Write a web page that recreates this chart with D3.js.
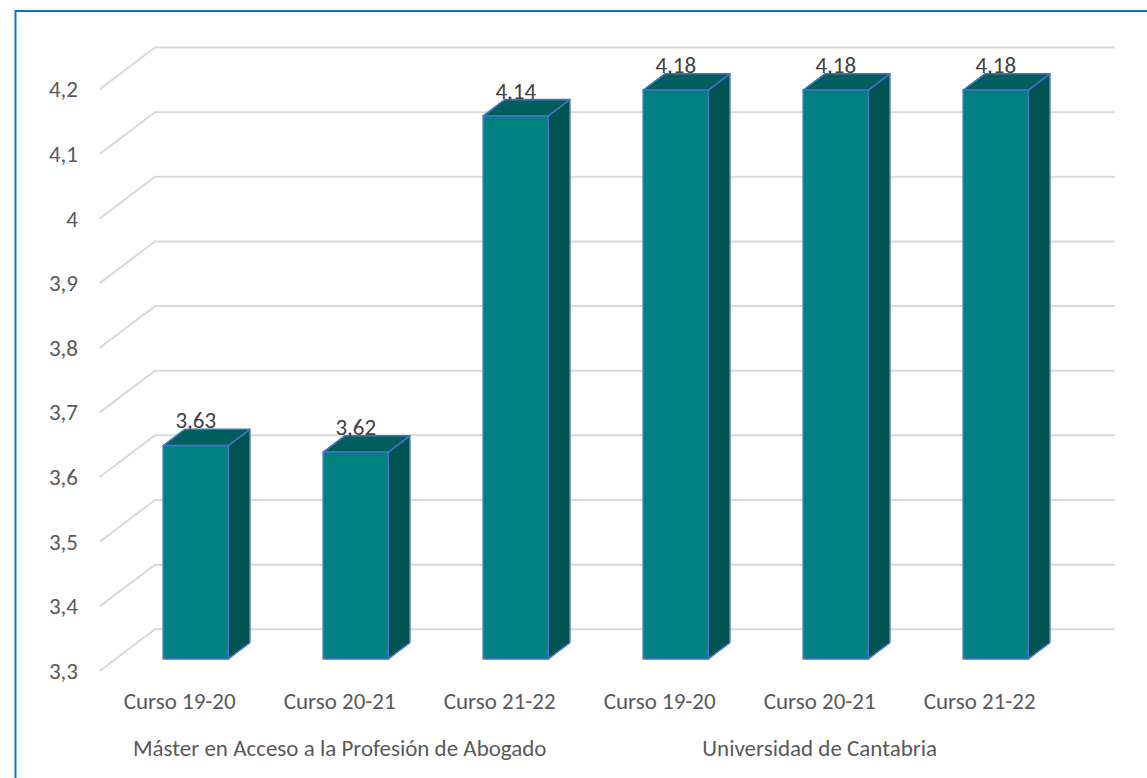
<!DOCTYPE html>
<html>
<head>
<meta charset="utf-8">
<script src="https://cdn.jsdelivr.net/npm/d3@7"></script>
<style>
  html, body { margin: 0; padding: 0; background: #fff; }
  #chart { width: 1147px; height: 778px; }
  text { font-family: Calibri, Carlito, Lato, sans-serif; }
</style>
</head>
<body>
<div id="chart"></div>
<script>
// data
const categories = ["Curso 19-20", "Curso 20-21", "Curso 21-22", "Curso 19-20", "Curso 20-21", "Curso 21-22"];
const groups = ["Máster en Acceso a la Profesión de Abogado", "Universidad de Cantabria"];
const groupOf = [0, 0, 0, 1, 1, 1];
const values = [3.63, 3.62, 4.14, 4.18, 4.18, 4.18];
const yTicks = [3.3, 3.4, 3.5, 3.6, 3.7, 3.8, 3.9, 4.0, 4.1, 4.2];

const width = 1147, height = 778;
const fontSize = '23px';

const svg = d3.select('#chart')
  .append('svg')
  .attr('width', width)
  .attr('height', height);

// outer frame (only top & left show in the picture)
svg.append('rect')
  .attr('x', 15.5).attr('y', 11)
  .attr('width', 1200).attr('height', 900)
  .attr('fill', 'none')
  .attr('stroke', '#0b70c4')
  .attr('stroke-width', 2);

// back-wall scales, the depth is done with a fake oblique projection
const x = d3.scaleBand()
  .domain(d3.range(categories.length))
  .range([155, 1115]);

const y = d3.scaleLinear()
  .domain([3.3, 4.2])
  .range([629.3, 47.5]);

const depthX = -55.3, depthY = 41.7;   // back plane -> front plane
const barFront = 0.71, barBack = 0.32;  // where the bar sits in depth
const barW = 65;

const fmt = d3.formatLocale({ decimal: ',', thousands: '.', grouping: [3], currency: ['', '€'] });
const tickFmt = v => fmt.format('~g')(+v.toFixed(1));

// gridlines: back wall + floor/side diagonal
const grid = svg.append('g');
yTicks.forEach(t => {
  grid.append('path')
    .attr('d', `M${155 + depthX},${y(t) + depthY} L155,${y(t)} L1115,${y(t)}`)
    .attr('fill', 'none')
    .attr('stroke', '#d9d9d9')
    .attr('stroke-width', 2);
});

// y labels
svg.append('g').selectAll('text')
  .data(yTicks)
  .enter()
  .append('text')
  .attr('x', 78)
  .attr('y', d => y(d) + depthY)
  .attr('dy', '0.35em')
  .attr('text-anchor', 'end')
  .attr('fill', '#595959')
  .style('font-size', fontSize)
  .text(d => tickFmt(d));

// bars
const bars = svg.append('g');
values.forEach((v, i) => {
  const xl = x(i) + (x.bandwidth() - barW) / 2;
  const P = (xx, yy, t) => [xx + depthX * t, yy + depthY * t];
  const fTL = P(xl, y(v), barFront), fTR = P(xl + barW, y(v), barFront);
  const fBR = P(xl + barW, y(3.3), barFront), fBL = P(xl, y(3.3), barFront);
  const bTL = P(xl, y(v), barBack), bTR = P(xl + barW, y(v), barBack);
  const bBR = P(xl + barW, y(3.3), barBack);

  const poly = (pts, fill) => bars.append('polygon')
    .attr('points', pts.map(p => p.join(',')).join(' '))
    .attr('fill', fill)
    .attr('stroke', '#4472c4')
    .attr('stroke-width', 1.6)
    .attr('stroke-linejoin', 'round');

  poly([fTR, bTR, bBR, fBR], '#005352');   // side
  poly([fTL, fTR, bTR, bTL], '#005e5d');   // top
  poly([fTL, fTR, fBR, fBL], '#008080');   // front

  bars.append('text')
    .attr('x', (fTL[0] + fTR[0]) / 2)
    .attr('y', bTL[1] - 1)
    .attr('text-anchor', 'middle')
    .attr('fill', '#404040')
    .style('font-size', fontSize)
    .text(fmt.format('.2f')(v));
});

// category labels on the front edge
svg.append('g').selectAll('text')
  .data(categories)
  .enter()
  .append('text')
  .attr('x', (d, i) => x(i) + x.bandwidth() / 2 + depthX)
  .attr('y', 701)
  .attr('dy', '0.35em')
  .attr('text-anchor', 'middle')
  .attr('fill', '#595959')
  .style('font-size', fontSize)
  .text(d => d);

// group labels
svg.append('g').selectAll('text')
  .data(groups)
  .enter()
  .append('text')
  .attr('x', (d, g) => {
    const idx = d3.range(categories.length).filter(i => groupOf[i] === g);
    return d3.mean(idx, i => x(i) + x.bandwidth() / 2) + depthX;
  })
  .attr('y', 748)
  .attr('dy', '0.35em')
  .attr('text-anchor', 'middle')
  .attr('fill', '#595959')
  .style('font-size', fontSize)
  .text(d => d);
</script>
</body>
</html>
